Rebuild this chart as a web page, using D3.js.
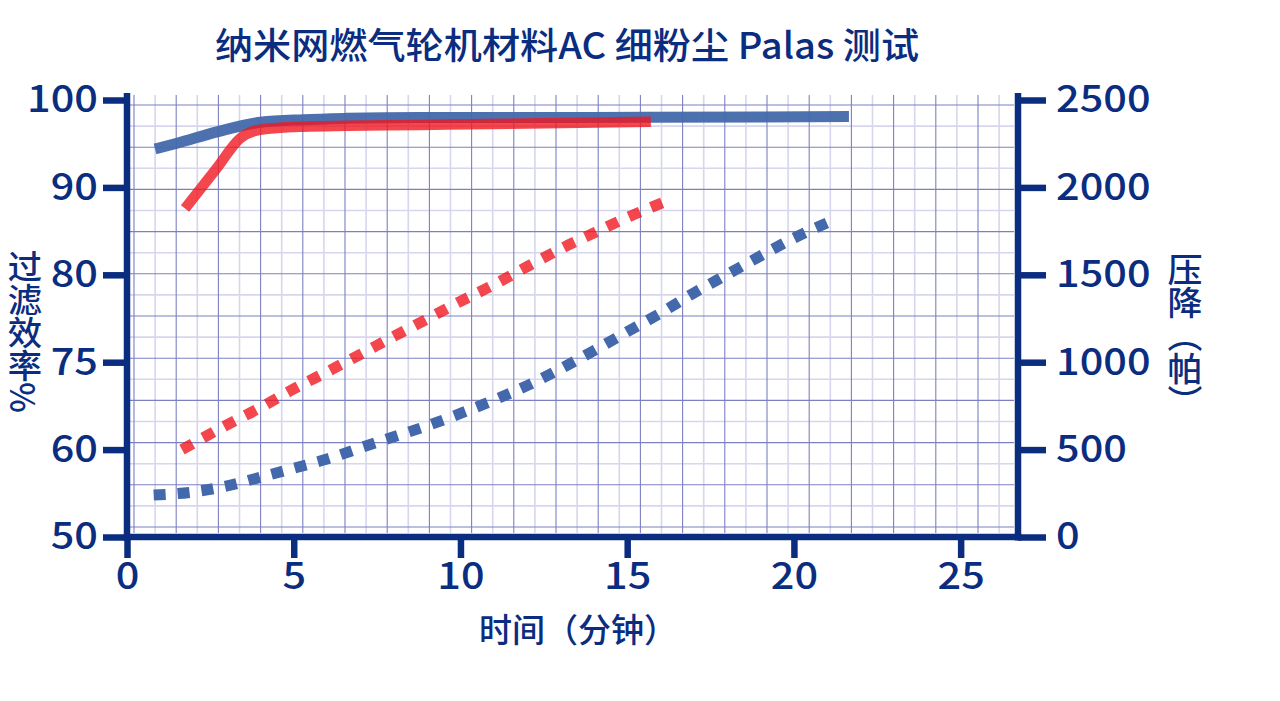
<!DOCTYPE html>
<html>
<head>
<meta charset="utf-8">
<script src="https://cdn.jsdelivr.net/npm/d3@7/dist/d3.min.js"></script>
<style>
  html, body { margin: 0; padding: 0; background: #fff; }
  svg { display: block; font-family: "Noto Sans CJK SC", "Noto Sans", sans-serif; }
</style>
</head>
<body>
<div id="chart"></div>
<script>
// efficiency (%), solid lines
const blueEffTime = [0.84, 1.5, 2.7, 4.0, 5.3, 6.6, 8.8, 12, 15.5, 21.65];
const blueEff = [94.4, 95.05, 96.35, 97.45, 97.75, 97.9, 98.0, 98.0, 98.02, 98.1];
const redEffTime = [1.74, 2.69, 3.39, 3.99, 5.28, 6.59, 8.79, 12, 15.71];
const redEff = [87.6, 92.2, 95.6, 96.6, 96.95, 97.05, 97.15, 97.3, 97.5];

// pressure drop (Pa), dotted lines
const bluePaTime = [0.8, 2, 3, 4, 5, 6, 7, 8, 9, 10, 11, 12, 13, 14, 15, 16, 17, 18, 19, 20, 21.1];
const bluePa = [240, 258, 292, 342, 393, 446, 510, 573, 636, 707, 783, 866, 962, 1066, 1174, 1281, 1396, 1502, 1608, 1710, 1806];
const redPaTime = [1.65, 3, 4, 5, 6, 7, 8, 9, 10, 11, 12, 13, 14, 15, 16.1];
const redPa = [500, 642, 740, 847, 945, 1045, 1148, 1247, 1348, 1443, 1547, 1648, 1739, 1828, 1915];

const xTicks = [0, 5, 10, 15, 20, 25];
const effTicks = [50, 60, 70, 80, 90, 100];
const effTickLabels = ["50", "60", "75", "80", "90", "100"];
const paTicks = [0, 500, 1000, 1500, 2000, 2500];

const title = "纳米网燃气轮机材料AC 细粉尘 Palas 测试";
const xLabel = "时间（分钟）";
const effLabel = "过滤效率%";
const paLabel = "压降（帕）";

const width = 1280, height = 701;
const navy = "#0b2d80";
const blue = "#4368ab";
const red = "#f01820";
const stretch = 1.12; // the reference glyphs are a bit wide

const plotLeft = 127, plotRight = 1018, plotTop = 100, plotBottom = 537, axisTop = 93;

const svg = d3.select("#chart").append("svg")
  .attr("width", width)
  .attr("height", height);

svg.append("rect").attr("width", width).attr("height", height).attr("fill", "#fff");

const x = d3.scaleLinear().domain([0, 26.72]).range([plotLeft, plotRight]);
const yEff = d3.scaleLinear().domain([50, 100]).range([plotBottom, plotTop]);
const yPa = d3.scaleLinear().domain([0, 2500]).range([plotBottom, plotTop]);

// graph-paper background
const grid = svg.append("g");
const step = 42.2;
const gxMinor = d3.range(134 + step / 2, 1014, step);
const gxMajor = d3.range(134, 1014, step);
const gyMinor = d3.range(105 + step / 2, 533, step);
const gyMajor = d3.range(105, 533, step);

grid.selectAll("line.vminor").data(gxMinor).join("line").attr("class", "vminor")
  .attr("x1", d => d).attr("x2", d => d).attr("y1", 95).attr("y2", 533)
  .attr("stroke", "#d6d6ee").attr("stroke-width", 1.6);
grid.selectAll("line.hminor").data(gyMinor).join("line").attr("class", "hminor")
  .attr("x1", 130).attr("x2", 1014).attr("y1", d => d).attr("y2", d => d)
  .attr("stroke", "#d6d6ee").attr("stroke-width", 1.6);
grid.selectAll("line.vmajor").data(gxMajor).join("line").attr("class", "vmajor")
  .attr("x1", d => d).attr("x2", d => d).attr("y1", 95).attr("y2", 533)
  .attr("stroke", "#7d80c0").attr("stroke-width", 1.1);
grid.selectAll("line.hmajor").data(gyMajor).join("line").attr("class", "hmajor")
  .attr("x1", 130).attr("x2", 1014).attr("y1", d => d).attr("y2", d => d)
  .attr("stroke", "#7d80c0").attr("stroke-width", 1.1);

// series
const effLine = d3.line().x(d => x(d[0])).y(d => yEff(d[1])).curve(d3.curveMonotoneX);
const paLine = d3.line().x(d => x(d[0])).y(d => yPa(d[1])).curve(d3.curveMonotoneX);

svg.append("path")
  .datum(d3.zip(bluePaTime, bluePa))
  .attr("d", paLine)
  .attr("fill", "none").attr("stroke", blue).attr("stroke-width", 11)
  .attr("stroke-dasharray", "12 12");

svg.append("path")
  .datum(d3.zip(redPaTime, redPa))
  .attr("d", paLine)
  .attr("fill", "none").attr("stroke", red).attr("stroke-opacity", 0.8).attr("stroke-width", 11)
  .attr("stroke-dasharray", "12 12");

svg.append("path")
  .datum(d3.zip(blueEffTime, blueEff))
  .attr("d", effLine)
  .attr("fill", "none").attr("stroke", blue).attr("stroke-opacity", 0.95).attr("stroke-width", 11);

svg.append("path")
  .datum(d3.zip(redEffTime, redEff))
  .attr("d", effLine)
  .attr("fill", "none").attr("stroke", red).attr("stroke-opacity", 0.8).attr("stroke-width", 10.5);

// axes
function styleAxis(g) {
  g.select(".domain").remove();
  g.selectAll(".tick line").attr("stroke", navy).attr("stroke-width", 6.5);
  g.selectAll(".tick text").attr("fill", navy).style("font-size", "37px")
    .style("font-weight", 500)
    .style("font-family", "'Noto Sans CJK SC', sans-serif")
    .attr("transform", `scale(${stretch},1)`);
}

svg.append("g")
  .attr("transform", `translate(${plotLeft},0)`)
  .call(d3.axisLeft(yEff).tickValues(effTicks).tickFormat((d, i) => effTickLabels[i]).tickSize(24).tickPadding(2))
  .call(styleAxis);

svg.append("g")
  .attr("transform", `translate(${plotRight},0)`)
  .call(d3.axisRight(yPa).tickValues(paTicks).tickFormat(d3.format("d")).tickSize(28).tickPadding(6))
  .call(styleAxis);

svg.append("g")
  .attr("transform", `translate(0,${plotBottom})`)
  .call(d3.axisBottom(x).tickValues(xTicks).tickSize(21).tickPadding(5))
  .call(styleAxis);

svg.append("line").attr("x1", plotLeft).attr("x2", plotLeft).attr("y1", axisTop).attr("y2", plotBottom + 3.5)
  .attr("stroke", navy).attr("stroke-width", 6.5);
svg.append("line").attr("x1", plotRight).attr("x2", plotRight).attr("y1", axisTop).attr("y2", plotBottom + 3.5)
  .attr("stroke", navy).attr("stroke-width", 6.5);
svg.append("line").attr("x1", plotLeft - 3.25).attr("x2", plotRight + 3.25).attr("y1", plotBottom).attr("y2", plotBottom)
  .attr("stroke", navy).attr("stroke-width", 6.5);

// texts
svg.append("text")
  .attr("transform", `translate(567,59) scale(1.06,1)`)
  .attr("text-anchor", "middle")
  .attr("fill", navy)
  .style("font-size", "36px")
  .style("font-weight", 500)
  .text(title);

svg.append("text")
  .attr("x", 578).attr("y", 642)
  .attr("text-anchor", "middle")
  .attr("fill", navy)
  .style("font-size", "33px")
  .style("font-weight", 500)
  .text(xLabel);

svg.append("text")
  .attr("transform", "translate(25,250) scale(1.04,1)")
  .attr("fill", navy)
  .style("font-size", "33px")
  .style("font-weight", 500)
  .style("writing-mode", "vertical-rl")
  .text(effLabel);

svg.append("text")
  .attr("transform", "translate(1185,253) scale(1.06,1)")
  .attr("fill", navy)
  .style("font-size", "33px")
  .style("font-weight", 500)
  .style("writing-mode", "vertical-rl")
  .text(paLabel);
</script>
</body>
</html>
